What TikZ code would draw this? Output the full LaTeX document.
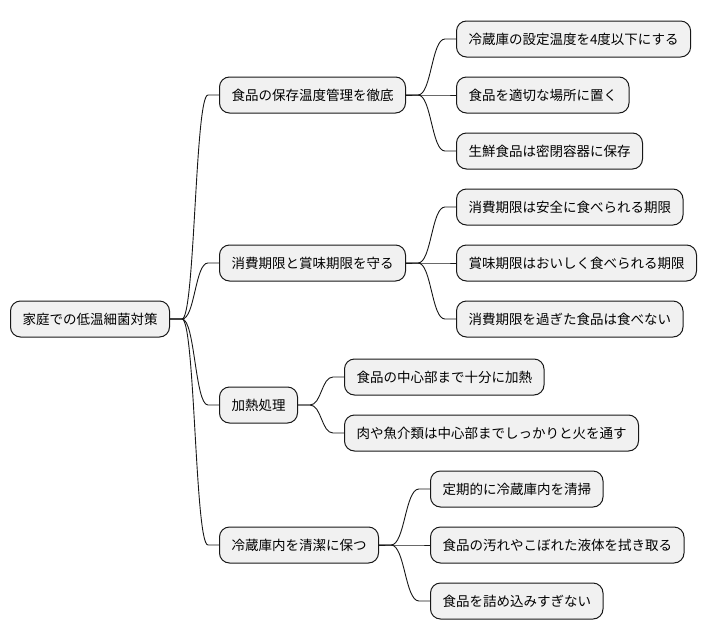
\documentclass[tikz,border=0pt]{standalone}
\usepackage{fontspec}
\setmainfont{Noto Sans CJK JP}
\usetikzlibrary{calc}
\definecolor{boxgray}{HTML}{F1F1F1}
\definecolor{edgedark}{HTML}{181818}
\newcommand\mmconn[2]{%
  \path (#1.east) ++(12,0) coordinate (cs);
  \path (#2.west) ++(-11,0) coordinate (ce);
  \coordinate (cm) at ($(cs)!0.5!(ce)$);
  \draw[link] (#1.east) -- (cs) .. controls (cm |- cs) and (cm |- ce) .. (ce) -- (#2.west);
}
\begin{document}
\begin{tikzpicture}[x=1pt,y=-1pt,
  box/.style={draw=edgedark, line width=1pt, fill=boxgray, rounded corners=10pt,
    minimum height=36pt, inner xsep=12pt, inner ysep=0pt,
    font=\fontsize{13.5}{16}\selectfont, anchor=west},
  link/.style={draw=edgedark, line width=0.9pt}]
\useasboundingbox (0,0) rectangle (712,640);

\node[box] (r) at (10,319) {家庭での低温細菌対策};

\node[box] (a) at (219,95) {食品の保存温度管理を徹底};
\node[box] (b) at (219,263) {消費期限と賞味期限を守る};
\node[box] (c) at (219,405) {加熱処理};
\node[box] (d) at (219,545) {冷蔵庫内を清潔に保つ};

\node[box] (a1) at (456,39) {冷蔵庫の設定温度を4度以下にする};
\node[box] (a2) at (456,95) {食品を適切な場所に置く};
\node[box] (a3) at (456,151) {生鮮食品は密閉容器に保存};

\node[box] (b1) at (456,207) {消費期限は安全に食べられる期限};
\node[box] (b2) at (456,263) {賞味期限はおいしく食べられる期限};
\node[box] (b3) at (456,319) {消費期限を過ぎた食品は食べない};

\node[box] (c1) at (344,377) {食品の中心部まで十分に加熱};
\node[box] (c2) at (344,433) {肉や魚介類は中心部までしっかりと火を通す};

\node[box] (d1) at (430,489) {定期的に冷蔵庫内を清掃};
\node[box] (d2) at (430,545) {食品の汚れやこぼれた液体を拭き取る};
\node[box] (d3) at (430,601) {食品を詰め込みすぎない};

\mmconn{r}{a}\mmconn{r}{b}\mmconn{r}{c}\mmconn{r}{d}
\mmconn{a}{a1}\mmconn{a}{a2}\mmconn{a}{a3}
\mmconn{b}{b1}\mmconn{b}{b2}\mmconn{b}{b3}
\mmconn{c}{c1}\mmconn{c}{c2}
\mmconn{d}{d1}\mmconn{d}{d2}\mmconn{d}{d3}
\end{tikzpicture}
\end{document}
